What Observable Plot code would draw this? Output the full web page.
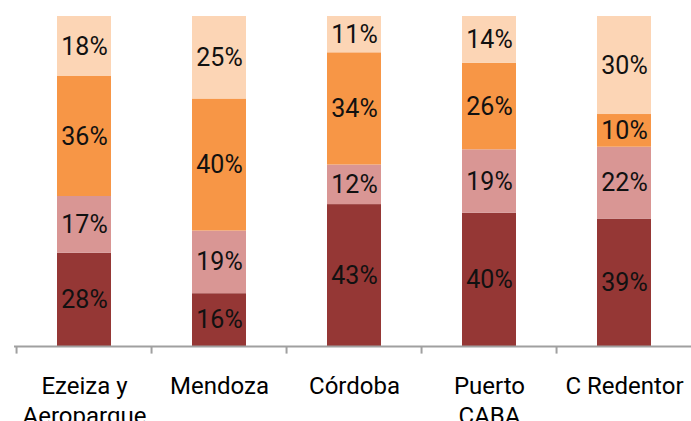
<!DOCTYPE html>
<html>
<head>
<meta charset="utf-8">
<script src="https://cdn.jsdelivr.net/npm/d3@7"></script>
<script src="https://cdn.jsdelivr.net/npm/@observablehq/plot@0.6"></script>
<style>
  html, body { margin: 0; padding: 0; background: #fff; }
  svg { display: block; }
</style>
</head>
<body>
<div id="chart"></div>
<script>
const categories = ["Ezeiza y\nAeroparque", "Mendoza", "Córdoba", "Puerto\nCABA", "C Redentor"];
const seriesNames = ["s1", "s2", "s3", "s4"];
const s1 = [28, 16, 43, 40, 39];
const s2 = [17, 19, 12, 19, 22];
const s3 = [36, 40, 34, 26, 10];
const s4 = [18, 25, 11, 14, 30];
const colors = ["#953735", "#D99694", "#F79646", "#FCD5B5"];

const seriesValues = [s1, s2, s3, s4];
const data = [];
seriesNames.forEach((s, si) => {
  categories.forEach((c, ci) => {
    data.push({cat: c, series: s, value: seriesValues[si][ci]});
  });
});

const stackOpts = {x: "cat", y: "value", z: "series", order: seriesNames, offset: "normalize"};
const halfStep = (693.5 - 14) / categories.length / 2;

const chart = Plot.plot({
  width: 691,
  height: 421,
  marginTop: 16,
  marginBottom: 75,
  marginLeft: 14,
  marginRight: 0,
  style: {fontFamily: "Roboto, sans-serif", background: "#fff"},
  x: {domain: categories, range: [14, 693.5], paddingInner: 0.6, paddingOuter: 0.3},
  y: {domain: [0, 1], axis: null},
  color: {domain: seriesNames, range: colors},
  marks: [
    Plot.barY(data, Plot.stackY({...stackOpts, fill: "series"})),
    Plot.text(data, Plot.stackY({...stackOpts, y: "value", text: d => d.value + "%", fontSize: 25, fill: "#111"})),
    Plot.ruleY([0], {stroke: "#A0A0A0", strokeWidth: 2}),
    Plot.ruleX(categories, {x: d => d, y1: 0, y2: -0.023, dx: -halfStep, stroke: "#A0A0A0", strokeWidth: 2}),
    Plot.axisX({tickSize: 0, tickPadding: 26, fontSize: 24, lineHeight: 1.25, fill: "#000", label: null})
  ]
});
document.getElementById("chart").appendChild(chart);
</script>
</body>
</html>
